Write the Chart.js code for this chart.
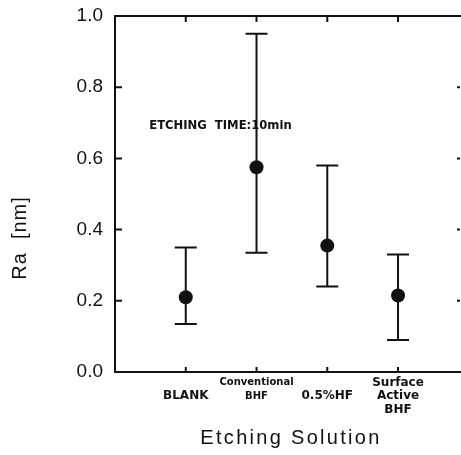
<!DOCTYPE html>
<html><head><meta charset="utf-8">
<script src="https://cdn.jsdelivr.net/npm/chart.js@4/dist/chart.umd.min.js"></script>
<style>html,body{margin:0;padding:0;background:#fff}</style>
</head><body>
<canvas id="c" width="461" height="455"></canvas>
<script>
// Surface roughness Ra after 10 min etching in each solution
const categories = [['', 'BLANK'], ['Conventional', 'BHF'], ['', '0.5%HF'], ['Surface', 'Active', 'BHF']];
const positions = [1, 2, 3, 4];
const raMean = [0.21, 0.575, 0.355, 0.215];
const raLow = [0.135, 0.335, 0.24, 0.09];
const raHigh = [0.35, 0.95, 0.58, 0.33];
const yTicks = [0, 0.2, 0.4, 0.6, 0.8, 1.0];
const yTitle = 'Ra  [nm]';
const xTitle = 'Etching Solution';
const note = 'ETCHING  TIME:10min';

const ink = '#111';

const decor = {
  id: 'decor',
  beforeDatasetsDraw(chart) {
    const { ctx, chartArea: a, scales: { x, y } } = chart;
    const edge = chart.width;
    ctx.save();
    ctx.strokeStyle = ink;
    ctx.lineWidth = 2;
    // frame (top, left, bottom); the right side runs off the canvas
    ctx.beginPath();
    ctx.moveTo(edge, a.top); ctx.lineTo(a.left, a.top);
    ctx.lineTo(a.left, a.bottom); ctx.lineTo(edge, a.bottom);
    ctx.stroke();
    // inward tick marks
    ctx.beginPath();
    yTicks.slice(1, -1).forEach(v => {
      const py = y.getPixelForValue(v);
      ctx.moveTo(a.left, py); ctx.lineTo(a.left + 7, py);
      ctx.moveTo(edge - 4, py); ctx.lineTo(edge - 1, py);
    });
    positions.forEach(v => {
      const px = x.getPixelForValue(v);
      ctx.moveTo(px, a.top); ctx.lineTo(px, a.top + 6);
      ctx.moveTo(px, a.bottom); ctx.lineTo(px, a.bottom - 5);
    });
    ctx.stroke();
    // error bars
    ctx.beginPath();
    positions.forEach((v, i) => {
      const px = x.getPixelForValue(v);
      const yl = y.getPixelForValue(raLow[i]);
      const yh = y.getPixelForValue(raHigh[i]);
      ctx.moveTo(px, yl); ctx.lineTo(px, yh);
      ctx.moveTo(px - 11, yl); ctx.lineTo(px + 11, yl);
      ctx.moveTo(px - 11, yh); ctx.lineTo(px + 11, yh);
    });
    ctx.stroke();
    ctx.restore();
  },
  afterDraw(chart) {
    const { ctx, scales: { x, y } } = chart;
    ctx.save();
    ctx.fillStyle = ink;
    // annotation
    ctx.font = 'bold 11.6px "DejaVu Sans"';
    ctx.textAlign = 'center';
    ctx.textBaseline = 'middle';
    ctx.fillText(note, x.getPixelForValue(1.49), y.getPixelForValue(0.69));
    // axis titles
    ctx.font = '20px "Liberation Sans"';
    ctx.letterSpacing = '2.3px';
    ctx.fillText(xTitle, 291, 438);
    ctx.translate(20, 238);
    ctx.rotate(-Math.PI / 2);
    ctx.letterSpacing = '1px';
    ctx.fillText(yTitle, 0, 0);
    ctx.restore();
  }
};

new Chart(document.getElementById('c'), {
  type: 'scatter',
  data: {
    datasets: [{
      data: positions.map((p, i) => ({ x: p, y: raMean[i] })),
      pointRadius: 7,
      pointBackgroundColor: ink,
      pointBorderWidth: 0,
      pointHoverRadius: 7
    }]
  },
  options: {
    responsive: false,
    animation: false,
    layout: { autoPadding: false, padding: { top: 15, right: 0, left: 0, bottom: 0 } },
    plugins: { legend: { display: false }, tooltip: { enabled: false } },
    scales: {
      x: {
        type: 'linear', min: 0, max: 4.89,
        afterBuildTicks: s => { s.ticks = positions.map(v => ({ value: v })); },
        afterFit: s => { s.height = 83; },
        grid: { display: false, drawTicks: false },
        border: { display: false },
        ticks: {
          autoSkip: false, maxRotation: 0, padding: 4, color: ink,
          callback: v => categories[positions.indexOf(v)],
          font: c => ({ family: 'DejaVu Sans', weight: 'bold', size: (c.tick && c.tick.value === 2) ? 10 : 12, lineHeight: '13.5px' })
        }
      },
      y: {
        min: 0, max: 1,
        afterBuildTicks: s => { s.ticks = yTicks.map(v => ({ value: v })); },
        afterFit: s => { s.width = 115; },
        grid: { display: false, drawTicks: false },
        border: { display: false },
        ticks: {
          padding: 12, color: ink,
          callback: v => v.toFixed(1),
          font: { family: 'Liberation Sans', size: 19, lineHeight: '8px' }
        }
      }
    }
  },
  plugins: [decor]
});
</script>
</body></html>
